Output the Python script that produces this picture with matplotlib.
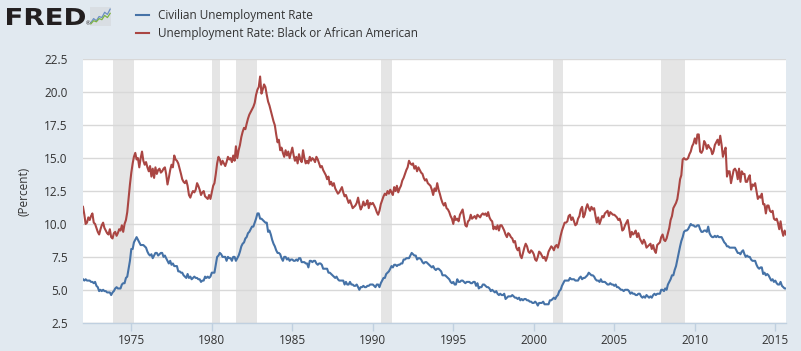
import numpy as np
import pandas as pd
import matplotlib
matplotlib.use("Agg")
import matplotlib.pyplot as plt
import matplotlib.dates as mdates
from matplotlib.textpath import TextPath
from matplotlib.patches import PathPatch
from matplotlib.font_manager import FontProperties
from matplotlib.transforms import Affine2D

plt.rcParams['font.family'] = ['Open Sans', 'DejaVu Sans']

start = "1972-01-01"

# civilian unemployment rate, monthly, Jan 1972 - Sep 2015
civilian = [
    5.8, 5.7, 5.8, 5.7, 5.7, 5.7, 5.6, 5.6, 5.5, 5.6, 5.3, 5.2,
    4.9, 5.0, 4.9, 5.0, 4.9, 4.9, 4.8, 4.8, 4.8, 4.6, 4.8, 4.9,
    5.1, 5.2, 5.1, 5.1, 5.1, 5.4, 5.5, 5.5, 5.9, 6.0, 6.6, 7.2,
    8.1, 8.1, 8.6, 8.8, 9.0, 8.8, 8.6, 8.4, 8.4, 8.4, 8.3, 8.2,
    7.9, 7.7, 7.6, 7.7, 7.4, 7.6, 7.8, 7.8, 7.6, 7.7, 7.8, 7.8,
    7.5, 7.6, 7.4, 7.2, 7.0, 7.2, 6.9, 7.0, 6.8, 6.8, 6.8, 6.4,
    6.4, 6.3, 6.3, 6.1, 6.0, 5.9, 6.2, 5.9, 6.0, 5.8, 5.9, 6.0,
    5.9, 5.9, 5.8, 5.8, 5.6, 5.7, 5.7, 6.0, 5.9, 6.0, 5.9, 6.0,
    6.3, 6.3, 6.3, 6.9, 7.5, 7.6, 7.8, 7.7, 7.5, 7.5, 7.5, 7.2,
    7.5, 7.4, 7.4, 7.2, 7.5, 7.5, 7.2, 7.4, 7.6, 7.9, 8.3, 8.5,
    8.6, 8.9, 9.0, 9.3, 9.4, 9.6, 9.8, 9.8, 10.1, 10.4, 10.8, 10.8,
    10.4, 10.4, 10.3, 10.2, 10.1, 10.1, 9.4, 9.5, 9.2, 8.8, 8.5, 8.3,
    8.0, 7.8, 7.8, 7.7, 7.4, 7.2, 7.5, 7.5, 7.3, 7.4, 7.2, 7.3,
    7.3, 7.2, 7.2, 7.3, 7.2, 7.4, 7.4, 7.1, 7.1, 7.1, 7.0, 7.0,
    6.7, 7.2, 7.2, 7.1, 7.2, 7.2, 7.0, 6.9, 7.0, 7.0, 6.9, 6.6,
    6.6, 6.6, 6.6, 6.3, 6.3, 6.2, 6.1, 6.0, 5.9, 6.0, 5.8, 5.7,
    5.7, 5.7, 5.7, 5.4, 5.6, 5.4, 5.4, 5.6, 5.4, 5.4, 5.3, 5.3,
    5.4, 5.2, 5.0, 5.2, 5.2, 5.3, 5.2, 5.2, 5.3, 5.3, 5.4, 5.4,
    5.4, 5.3, 5.2, 5.4, 5.4, 5.2, 5.5, 5.7, 5.9, 5.9, 6.2, 6.3,
    6.4, 6.6, 6.8, 6.7, 6.9, 6.9, 6.8, 6.9, 6.9, 7.0, 7.0, 7.3,
    7.3, 7.4, 7.4, 7.4, 7.6, 7.8, 7.7, 7.6, 7.6, 7.3, 7.4, 7.4,
    7.3, 7.1, 7.0, 7.1, 7.1, 7.0, 6.9, 6.8, 6.7, 6.8, 6.6, 6.5,
    6.6, 6.6, 6.5, 6.4, 6.1, 6.1, 6.1, 6.0, 5.9, 5.8, 5.6, 5.5,
    5.6, 5.4, 5.4, 5.8, 5.6, 5.6, 5.7, 5.7, 5.6, 5.5, 5.6, 5.6,
    5.6, 5.5, 5.5, 5.6, 5.6, 5.3, 5.5, 5.1, 5.2, 5.2, 5.4, 5.4,
    5.3, 5.2, 5.2, 5.1, 4.9, 5.0, 4.9, 4.8, 4.9, 4.7, 4.6, 4.7,
    4.6, 4.6, 4.7, 4.3, 4.4, 4.5, 4.5, 4.5, 4.6, 4.5, 4.4, 4.4,
    4.3, 4.4, 4.2, 4.3, 4.2, 4.3, 4.3, 4.2, 4.2, 4.1, 4.1, 4.0,
    4.0, 4.1, 4.0, 3.8, 4.0, 4.0, 4.0, 4.1, 3.9, 3.9, 3.9, 3.9,
    4.2, 4.2, 4.3, 4.4, 4.3, 4.5, 4.6, 4.9, 5.0, 5.3, 5.5, 5.7,
    5.7, 5.7, 5.7, 5.9, 5.8, 5.8, 5.8, 5.7, 5.7, 5.7, 5.9, 6.0,
    5.8, 5.9, 5.9, 6.0, 6.1, 6.3, 6.2, 6.1, 6.1, 6.0, 5.8, 5.7,
    5.7, 5.6, 5.8, 5.6, 5.6, 5.6, 5.5, 5.4, 5.4, 5.5, 5.4, 5.4,
    5.3, 5.4, 5.2, 5.2, 5.1, 5.0, 5.0, 4.9, 5.0, 5.0, 5.0, 4.9,
    4.7, 4.8, 4.7, 4.7, 4.6, 4.6, 4.7, 4.7, 4.5, 4.4, 4.5, 4.4,
    4.6, 4.5, 4.4, 4.5, 4.4, 4.6, 4.7, 4.6, 4.7, 4.7, 4.7, 5.0,
    5.0, 4.9, 5.1, 5.0, 5.4, 5.6, 5.8, 6.1, 6.1, 6.5, 6.8, 7.3,
    7.8, 8.3, 8.7, 9.0, 9.4, 9.5, 9.5, 9.6, 9.8, 10.0, 9.9, 9.9,
    9.8, 9.8, 9.9, 9.9, 9.6, 9.4, 9.4, 9.5, 9.5, 9.4, 9.8, 9.3,
    9.1, 9.0, 9.0, 9.1, 9.0, 9.1, 9.0, 9.0, 9.0, 8.8, 8.6, 8.5,
    8.3, 8.3, 8.2, 8.2, 8.2, 8.2, 8.2, 8.0, 7.8, 7.8, 7.7, 7.9,
    8.0, 7.7, 7.5, 7.6, 7.5, 7.5, 7.3, 7.2, 7.2, 7.2, 6.9, 6.7,
    6.6, 6.7, 6.7, 6.2, 6.3, 6.1, 6.2, 6.1, 5.9, 5.7, 5.8, 5.6,
    5.7, 5.5, 5.4, 5.4, 5.6, 5.3, 5.2, 5.1, 5.1,
]

# black or african american unemployment rate, monthly, same span
black = [
    11.3, 10.7, 10.0, 10.1, 10.5, 10.3, 10.6, 10.8, 10.1, 10.0, 9.7, 9.4,
    9.2, 9.6, 9.9, 10.1, 9.7, 9.5, 9.3, 9.2, 9.6, 9.0, 8.9, 9.3,
    9.4, 9.1, 9.3, 9.6, 9.5, 9.9, 9.4, 10.0, 10.3, 10.9, 12.0, 13.0,
    13.9, 14.6, 15.1, 15.4, 14.9, 15.0, 14.3, 15.0, 15.5, 14.8, 14.5, 14.7,
    14.3, 14.0, 14.4, 13.6, 14.2, 13.5, 14.3, 13.8, 14.1, 14.2, 13.9, 14.0,
    14.2, 14.3, 13.8, 13.0, 13.5, 14.1, 14.5, 14.3, 15.2, 14.9, 14.8, 14.6,
    14.2, 13.8, 13.4, 13.2, 13.1, 13.3, 12.9, 12.2, 12.0, 12.3, 12.5, 12.4,
    12.6, 13.1, 12.9, 12.6, 12.2, 12.4, 12.5, 12.1, 12.0, 11.9, 12.2, 11.9,
    12.4, 12.9, 13.1, 13.8, 14.6, 15.1, 14.9, 14.5, 14.8, 14.6, 14.4, 14.7,
    15.1, 14.9, 15.0, 14.7, 15.2, 14.8, 15.9, 15.0, 15.6, 16.0, 16.6, 17.0,
    17.3, 17.2, 17.6, 18.0, 18.3, 18.5, 18.7, 18.9, 19.2, 19.8, 20.2, 20.4,
    21.2, 19.9, 20.2, 20.6, 20.4, 19.8, 19.3, 19.0, 18.6, 18.2, 17.8, 17.5,
    16.8, 16.2, 16.4, 15.6, 15.8, 15.4, 15.1, 15.6, 15.2, 15.5, 15.0, 15.4,
    15.8, 15.2, 14.8, 15.1, 14.6, 15.3, 14.9, 14.7, 15.6, 15.0, 14.6, 14.8,
    14.6, 15.1, 14.8, 15.0, 14.9, 14.7, 15.1, 14.9, 14.6, 14.3, 14.4, 14.1,
    13.9, 13.7, 13.4, 13.6, 13.0, 13.2, 12.9, 13.1, 12.7, 12.5, 12.3, 12.4,
    12.6, 12.8, 12.4, 12.1, 12.2, 11.9, 11.6, 11.8, 11.5, 11.2, 11.3, 11.4,
    11.6, 12.0, 11.5, 11.1, 11.3, 11.7, 11.4, 11.5, 11.8, 11.2, 11.6, 11.5,
    11.6, 11.4, 11.2, 10.9, 10.7, 11.0, 11.5, 11.8, 12.1, 12.3, 12.2, 12.5,
    12.3, 12.6, 12.4, 12.2, 12.8, 12.5, 12.9, 12.4, 12.7, 12.9, 13.3, 13.5,
    13.8, 14.1, 14.3, 14.8, 14.6, 14.5, 14.6, 14.2, 14.4, 14.0, 14.3, 14.1,
    13.9, 13.8, 13.5, 13.3, 13.4, 13.1, 13.0, 12.9, 12.6, 12.2, 12.7, 12.5,
    13.1, 12.6, 12.3, 11.9, 11.6, 11.4, 11.6, 11.2, 11.1, 10.9, 10.6, 10.4,
    10.0, 10.6, 10.3, 10.4, 10.2, 10.7, 10.9, 11.1, 10.5, 9.9, 9.8, 10.2,
    10.3, 10.7, 10.4, 10.5, 10.6, 10.4, 10.7, 10.6, 10.5, 10.7, 10.8, 10.7,
    10.8, 10.6, 10.9, 10.5, 10.3, 10.2, 9.6, 9.8, 9.6, 9.9, 9.5, 9.9,
    9.9, 9.7, 9.5, 9.2, 9.0, 9.3, 9.2, 9.0, 8.9, 8.6, 8.7, 8.2,
    8.0, 8.2, 7.6, 7.4, 7.8, 8.2, 8.5, 8.3, 7.9, 7.8, 8.0, 7.9,
    7.7, 7.3, 7.2, 7.5, 7.9, 7.8, 7.6, 7.4, 7.5, 7.2, 7.5, 7.9,
    8.1, 8.3, 8.2, 8.0, 8.3, 8.4, 8.2, 8.6, 9.1, 9.5, 9.8, 10.1,
    10.1, 10.2, 10.6, 10.7, 10.3, 10.5, 10.2, 9.9, 10.0, 10.4, 10.6, 11.1,
    11.3, 10.5, 10.7, 11.2, 11.5, 11.2, 11.0, 11.3, 11.1, 11.2, 10.6, 10.1,
    10.5, 10.0, 10.3, 10.6, 10.5, 10.8, 10.9, 11.0, 10.6, 10.9, 10.8, 10.7,
    10.7, 10.6, 10.5, 10.3, 10.4, 10.1, 9.5, 9.6, 9.9, 10.1, 10.3, 9.7,
    9.0, 9.4, 9.2, 9.3, 9.5, 9.0, 9.3, 8.9, 8.7, 8.5, 8.8, 8.6,
    8.2, 8.3, 8.4, 8.5, 8.1, 8.4, 8.0, 7.8, 8.4, 8.5, 8.6, 9.0,
    9.2, 8.8, 8.7, 8.9, 9.3, 9.7, 10.3, 10.6, 11.2, 11.4, 11.6, 11.9,
    12.6, 13.4, 13.7, 14.9, 15.0, 14.9, 14.9, 15.0, 15.3, 15.5, 15.9, 16.1,
    16.5, 16.1, 16.8, 16.8, 15.5, 15.4, 15.6, 16.3, 16.1, 15.7, 16.0, 15.8,
    15.7, 15.3, 15.5, 16.0, 16.2, 16.4, 16.0, 16.7, 16.0, 15.1, 15.5, 15.8,
    13.6, 14.0, 14.0, 13.1, 13.6, 14.1, 14.2, 14.0, 13.4, 14.2, 13.2, 14.0,
    13.8, 13.8, 13.2, 13.2, 13.5, 13.7, 12.6, 13.0, 12.9, 13.1, 12.5, 11.9,
    12.1, 12.0, 12.3, 11.5, 11.5, 10.8, 11.4, 11.4, 11.0, 10.9, 11.0, 10.4,
    10.3, 10.4, 10.1, 9.6, 10.2, 9.5, 9.1, 9.5, 9.2,
]

recessions = [
    ("1973-11-01", "1975-03-01"),
    ("1980-01-01", "1980-07-01"),
    ("1981-07-01", "1982-11-01"),
    ("1990-07-01", "1991-03-01"),
    ("2001-03-01", "2001-11-01"),
    ("2007-12-01", "2009-06-01"),
]

year_ticks = [1975, 1980, 1985, 1990, 1995, 2000, 2005, 2010, 2015]
y_ticks = [2.5, 5.0, 7.5, 10.0, 12.5, 15.0, 17.5, 20.0, 22.5]

names = ["Civilian Unemployment Rate", "Unemployment Rate: Black or African American"]
colors = ["#4572a7", "#aa4643"]

bg = "#e1e9f0"
W, H = 801, 351
dates = pd.date_range(start, periods=len(civilian), freq="MS")

fig = plt.figure(figsize=(W / 100, H / 100), dpi=100, facecolor=bg)
ax = fig.add_axes([83 / W, 28.3 / H, 703 / W, 263.3 / H])
ax.set_facecolor("white")

for a, b in recessions:
    ax.axvspan(pd.Timestamp(a), pd.Timestamp(b), color="#e5e5e5", lw=0, zorder=1)

for yv in y_ticks:
    ax.axhline(yv, color="#d8d8d8", lw=1, zorder=1.5)

ax.plot(dates, civilian, color=colors[0], lw=1.5, label=names[0], zorder=3)
ax.plot(dates, black, color=colors[1], lw=1.5, label=names[1], zorder=3)

ax.set_xlim(dates[0], dates[-1])
ax.set_ylim(2.5, 22.5)
ax.set_yticks(y_ticks)
ax.set_yticklabels([f"{v:.1f}" for v in y_ticks])
ax.set_xticks([pd.Timestamp(f"{y}-01-01") for y in year_ticks])
ax.xaxis.set_major_formatter(mdates.DateFormatter("%Y"))

for s in ["top", "right", "left"]:
    ax.spines[s].set_visible(False)
ax.spines["bottom"].set_color("#c0d0e0")
ax.spines["bottom"].set_linewidth(1)

ax.tick_params(axis="y", length=0, pad=11, labelsize=8.5, labelcolor="#333333")
ax.tick_params(axis="x", length=6, width=1, color="#c0d0e0", pad=2,
               labelsize=8.5, labelcolor="#333333")

ax.set_ylabel("(Percent)", fontsize=8.5, color="#333333", labelpad=10)

fig.legend(loc="upper left", bbox_to_anchor=(131 / W, 1 - 4 / H), frameon=False,
           fontsize=8.5, handlelength=1.15, handletextpad=0.7, labelspacing=0.45,
           borderaxespad=0, labelcolor="#333333")

# FRED logo, stretched wide like the real one
logo = TextPath((0, 0), "FRED", size=1,
                prop=FontProperties(family="DejaVu Sans", weight="heavy"))
ext = logo.get_extents()
sx = 78 / ext.width
sy = 17 / 0.73
tr = Affine2D().translate(-ext.x0, 0).scale(sx, sy).translate(7, H - 25)
fig.patches.append(PathPatch(logo, transform=tr, facecolor="#231f20", lw=0,
                             figure=fig))
fig.text(86 / W, 1 - 25 / H, "®", fontsize=4, color="#231f20", va="baseline")

icon = fig.add_axes([90 / W, 1 - 26 / H, 21 / W, 19 / H])
icon.set_facecolor("#d9dee3")
icon_blue = [1, 3, 2, 4, 3.5, 6, 5, 7.5]
icon_green = [0.5, 2, 1.5, 3, 2.5, 4.5, 3.5, 5.5]
icon.plot(icon_blue, color="#6b8fc2", lw=0.9)
icon.plot(icon_green, color="#7cb342", lw=0.9)
icon.set_xlim(-0.3, 7.3)
icon.set_ylim(-0.5, 8.5)
icon.set_xticks([])
icon.set_yticks([])
for s in icon.spines.values():
    s.set_visible(False)

fig.savefig("out.png", dpi=100, facecolor=bg)
